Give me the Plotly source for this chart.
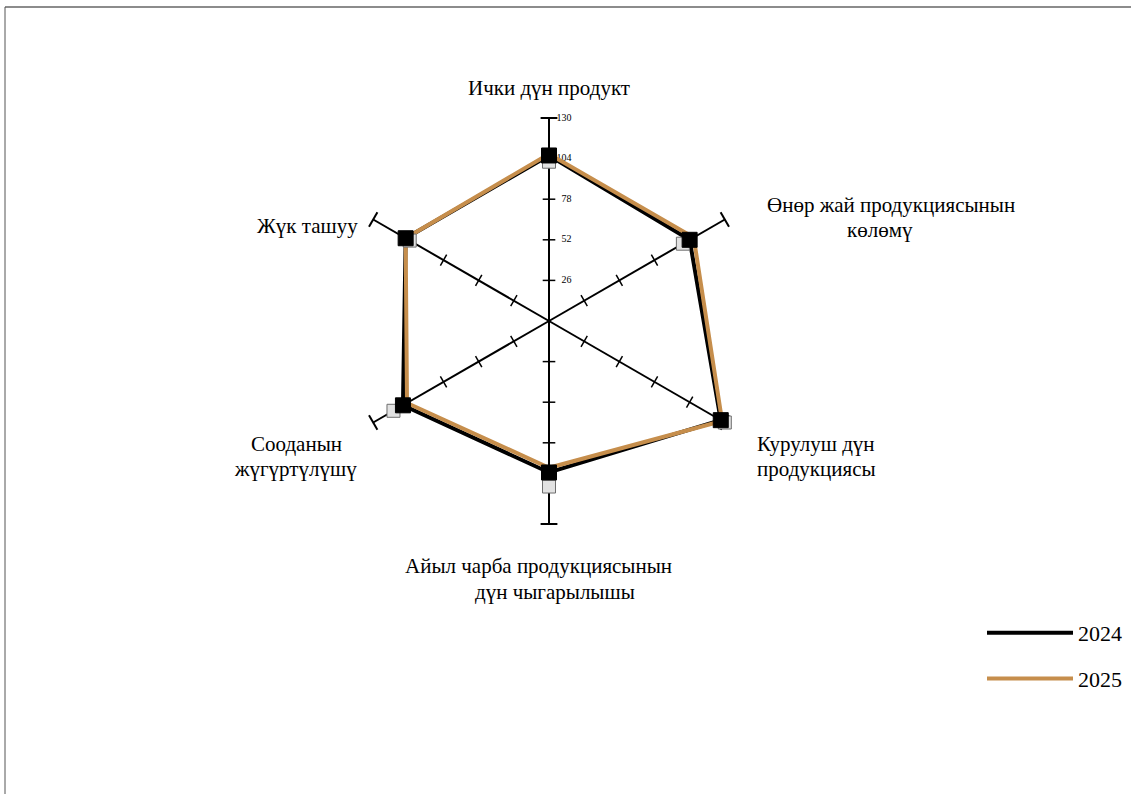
import plotly.graph_objects as go

# ---- data ----
categories = [
    "Ички дүн продукт",
    "Өнөр жай продукциясынын көлөмү",
    "Курулуш дүн продукциясы",
    "Айыл чарба продукциясынын дүн чыгарылышы",
    "Сооданын жүгүртүлүшү",
    "Жүк ташуу",
]
values_2024 = [106, 104, 127, 97, 108, 106]
values_2025 = [107, 107, 128, 94, 105, 106]
markers_2025 = [102, 99, 130, 106, 115, 103]
radial_ticks = [26, 52, 78, 104, 130]
series_names = ["2024", "2025"]

label_lines = [
    ["Ички дүн продукт"],
    ["Өнөр жай продукциясынын", "көлөмү"],
    ["Курулуш дүн", "продукциясы"],
    ["Айыл чарба продукциясынын", "дүн чыгарылышы"],
    ["Сооданын", "жүгүртүлүшү"],
    ["Жүк ташуу"],
]

# ---- layout constants (pixels) ----
W, H = 1131, 794
CX, CY, R = 549, 321, 203
label_pos = [
    [(549, 88)],
    [(891, 205), (880, 230)],
    [(816, 444), (816, 469)],
    [(538, 566), (555, 592)],
    [(296, 444), (295, 469)],
    [(307, 226)],
]
FONT = "Liberation Serif"
LABEL_SIZE = 21
BLACK = "#000000"
BROWN = "#C68E4C"

n = len(categories)
spoke_angles = [i * 360 / n for i in range(n)]


def closed(v):
    return list(v) + [v[0]]


fig = go.Figure()

# spoke tick marks
tick_r, tick_t, tick_a = [], [], []
cap_r, cap_t, cap_a = [], [], []
for c, a in zip(categories, spoke_angles):
    for t in radial_ticks[:-1]:
        tick_r.append(t)
        tick_t.append(c)
        tick_a.append(a)
    cap_r.append(radial_ticks[-1])
    cap_t.append(c)
    cap_a.append(a)

fig.add_trace(go.Scatterpolar(
    r=tick_r, theta=tick_t, mode="markers", showlegend=False, hoverinfo="skip",
    marker=dict(symbol="line-ew", size=9, angle=tick_a,
                line=dict(color=BLACK, width=1.5)),
))
fig.add_trace(go.Scatterpolar(
    r=cap_r, theta=cap_t, mode="markers", showlegend=False, hoverinfo="skip",
    marker=dict(symbol="line-ew", size=12, angle=cap_a,
                line=dict(color=BLACK, width=2)),
))
# radial tick labels along first spoke (right-aligned look)
tick_text = []
for t in radial_ticks:
    s = str(t)
    tick_text.append(" " * (3 + 2 * (3 - len(s))) + s)
fig.add_trace(go.Scatterpolar(
    r=radial_ticks, theta=[categories[0]] * len(radial_ticks), mode="text",
    text=tick_text, textposition="middle right",
    textfont=dict(family=FONT, size=10, color="#000"),
    showlegend=False, hoverinfo="skip",
))

# series lines
fig.add_trace(go.Scatterpolar(
    r=closed(values_2024), theta=closed(categories), mode="lines",
    name=series_names[0], legendgroup="a",
    line=dict(color=BLACK, width=4),
))
fig.add_trace(go.Scatterpolar(
    r=closed(values_2025), theta=closed(categories), mode="lines",
    name=series_names[1], legendgroup="b",
    line=dict(color=BROWN, width=4),
))
# markers
fig.add_trace(go.Scatterpolar(
    r=markers_2025, theta=categories, mode="markers", showlegend=False,
    name=series_names[1],
    marker=dict(symbol="square", size=13, color="#E2E2E2",
                line=dict(color="#6E6E6E", width=1)),
))
fig.add_trace(go.Scatterpolar(
    r=values_2024, theta=categories, mode="markers", showlegend=False,
    name=series_names[0],
    marker=dict(symbol="square", size=15, color=BLACK,
                line=dict(color=BLACK, width=1)),
))

annotations = []
for lines, poss in zip(label_lines, label_pos):
    for txt, (x, y) in zip(lines, poss):
        annotations.append(dict(
            x=x / W, y=1 - y / H, xref="paper", yref="paper", text=txt,
            showarrow=False, xanchor="center", yanchor="middle",
            font=dict(family=FONT, size=LABEL_SIZE, color="#000"),
        ))

fig.update_layout(
    width=W, height=H,
    margin=dict(l=0, r=0, t=0, b=0),
    paper_bgcolor="white",
    font=dict(family=FONT, color="#000"),
    polar=dict(
        domain=dict(x=[(CX - R) / W, (CX + R) / W],
                    y=[1 - (CY + R) / H, 1 - (CY - R) / H]),
        bgcolor="rgba(0,0,0,0)",
        gridshape="linear",
        angularaxis=dict(
            type="category", categoryorder="array", categoryarray=categories,
            rotation=90, direction="clockwise",
            showgrid=True, gridcolor=BLACK, gridwidth=1.5,
            showline=False, ticks="", showticklabels=False,
        ),
        radialaxis=dict(
            range=[0, radial_ticks[-1]], angle=90,
            ticks="", showline=False, showgrid=False, showticklabels=False,
        ),
    ),
    legend=dict(
        x=982 / W, y=1 - 612 / H, xanchor="left", yanchor="top",
        font=dict(family=FONT, size=22, color="#000"),
        tracegroupgap=14, itemwidth=86, traceorder="grouped",
        bgcolor="rgba(0,0,0,0)",
    ),
    annotations=annotations,
    shapes=[
        dict(type="line", xref="paper", yref="paper",
             x0=5 / W, x1=1.0, y0=1 - 7 / H, y1=1 - 7 / H,
             line=dict(color="#8C8C8C", width=2)),
        dict(type="line", xref="paper", yref="paper",
             x0=5 / W, x1=5 / W, y0=1 - 7 / H, y1=0,
             line=dict(color="#555555", width=1)),
    ],
)

fig.write_html("out.html", config={"displayModeBar": False},
               post_script="document.body.style.margin='0';")
